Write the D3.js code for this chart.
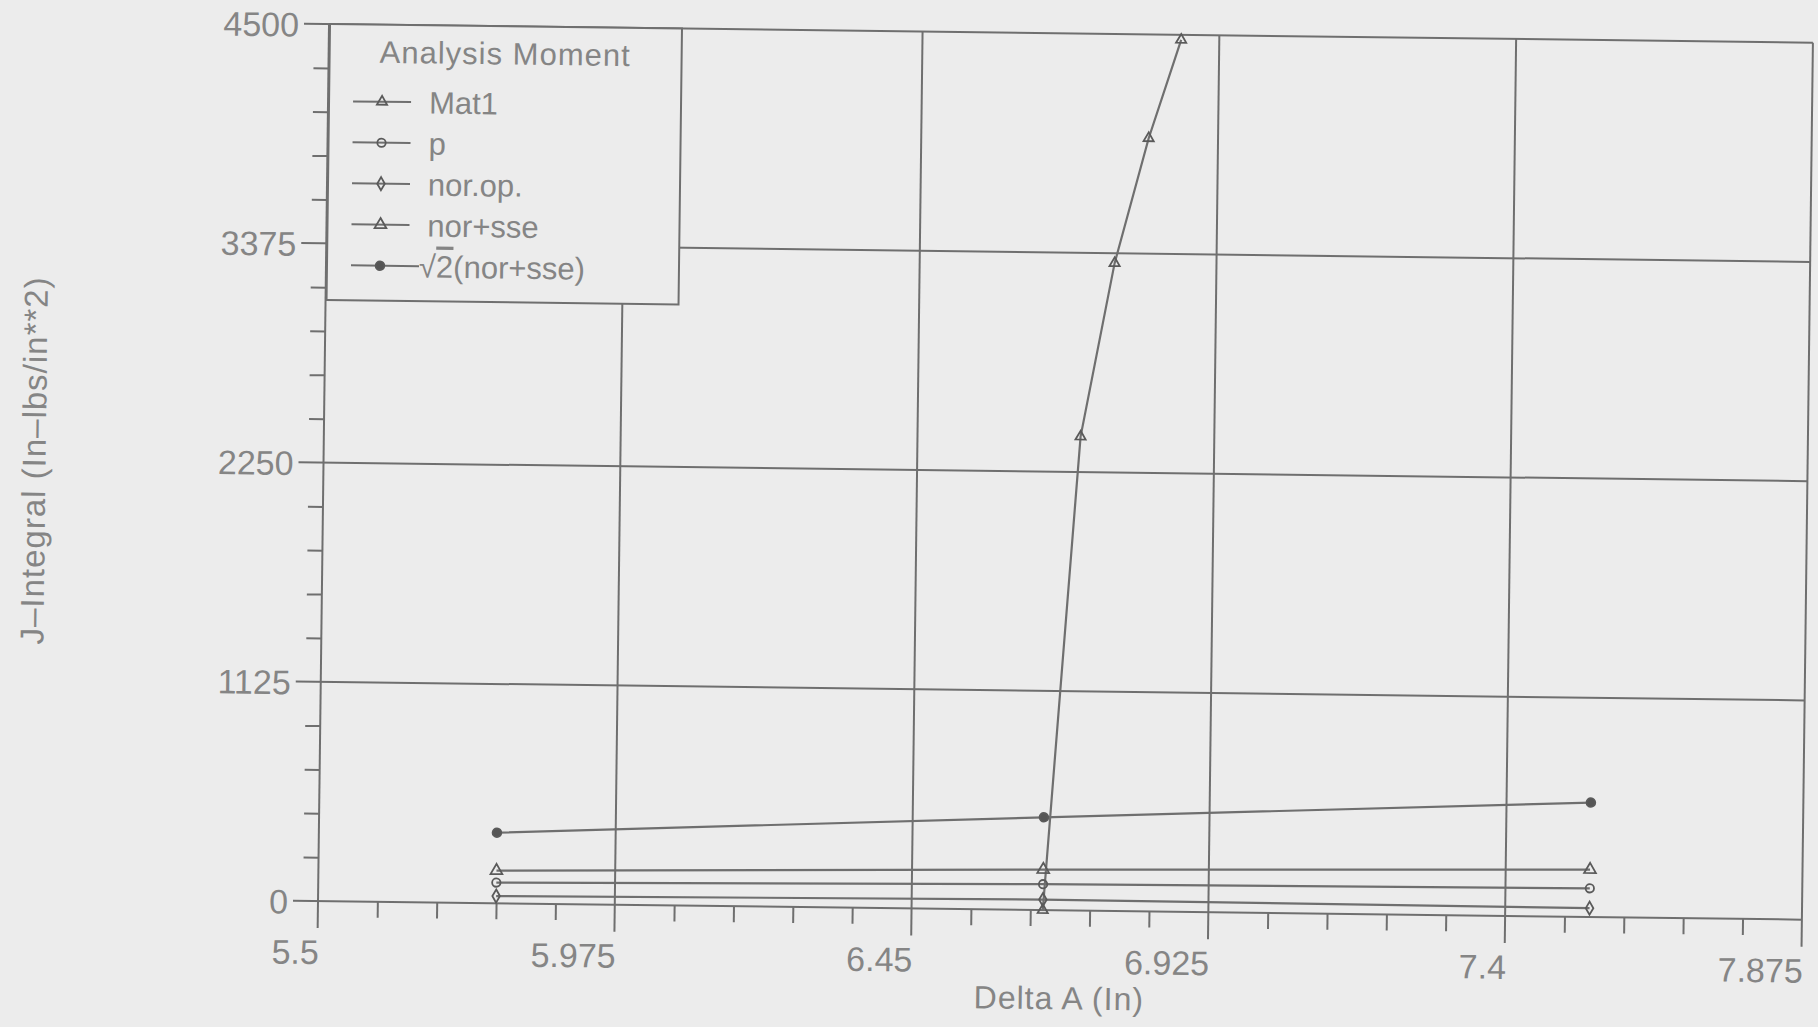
<!DOCTYPE html>
<html>
<head>
<meta charset="utf-8">
<script src="https://cdn.jsdelivr.net/npm/d3@7"></script>
<style>
  body { margin: 0; background: #ececec; }
  svg { display: block; }
  text { font-family: "Liberation Sans", Arial, sans-serif; fill: #858585; }
</style>
</head>
<body>
<script>
// data
const xTicks = [5.5, 5.975, 6.45, 6.925, 7.4, 7.875];
const yTicks = [0, 1125, 2250, 3375, 4500];
const loadX = [5.785, 6.66, 7.535];
const pVals = [106, 133, 147];
const norOpVals = [37, 54, 45];
const norSseVals = [167, 208, 243];
const sqrt2Vals = [362, 476, 587];
const mat1X = [6.66, 6.711, 6.762, 6.814, 6.864];
const mat1Y = [0, 2432, 3324, 3967, 4474];
const legendNames = ['Mat1', 'p', 'nor.op.', 'nor+sse', '(nor+sse)'];

const width = 1818, height = 1027;
const plotW = 1484, plotH = 877;
const lineColor = '#6f6f6f';

const svg = d3.select('body').append('svg')
	.attr('width', width)
	.attr('height', height);

svg.append('rect')
	.attr('width', width)
	.attr('height', height)
	.attr('fill', '#ececec');

// the scan is slightly tilted
const chart = svg.append('g')
	.attr('transform', 'rotate(0.72, 318, 901) translate(318, 24)');

const x = d3.scaleLinear().domain([5.5, 7.875]).range([0, plotW]);
const y = d3.scaleLinear().domain([0, 4500]).range([plotH, 0]);

// grid + border (major ticks run past the frame)
chart.selectAll('.vgrid')
	.data(xTicks)
	.join('line')
	.attr('x1', d => x(d)).attr('x2', d => x(d))
	.attr('y1', 0).attr('y2', plotH + 27)
	.attr('stroke', lineColor).attr('stroke-width', 2);

chart.selectAll('.hgrid')
	.data(yTicks)
	.join('line')
	.attr('x1', -25).attr('x2', plotW)
	.attr('y1', d => y(d)).attr('y2', d => y(d))
	.attr('stroke', lineColor).attr('stroke-width', 2);

// minor ticks
const xMinor = d3.range(5.5, 7.875, 0.095).filter((d, i) => i % 5 !== 0);
const yMinor = d3.range(0, 4500, 225).filter((d, i) => i % 5 !== 0);

const xMinorAxis = chart.append('g')
	.attr('transform', `translate(0, ${plotH})`)
	.call(d3.axisBottom(x).tickValues(xMinor).tickSize(16).tickFormat(''));
const yMinorAxis = chart.append('g')
	.call(d3.axisLeft(y).tickValues(yMinor).tickSize(15).tickFormat(''));
[xMinorAxis, yMinorAxis].forEach(g => {
	g.select('.domain').remove();
	g.selectAll('line').attr('stroke', lineColor).attr('stroke-width', 2);
});

// tick labels
const xAxisGroup = chart.append('g')
	.attr('transform', `translate(0, ${plotH})`)
	.call(d3.axisBottom(x).tickValues(xTicks).tickSize(0).tickFormat(d => String(d)));
xAxisGroup.selectAll('text')
	.attr('text-anchor', 'end')
	.attr('dy', null)
	.attr('y', 63)
	.attr('x', 1);

const yAxisGroup = chart.append('g')
	.call(d3.axisLeft(y).tickValues(yTicks).tickSize(0).tickPadding(30).tickFormat(d => String(d)));
yAxisGroup.selectAll('text')
	.attr('dy', '0.36em');

[xAxisGroup, yAxisGroup].forEach(g => {
	g.select('.domain').remove();
	g.selectAll('text')
		.attr('fill', '#858585')
		.style('font-size', '34px')
		.style('font-family', '"Liberation Sans", Arial, sans-serif');
});

// axis titles
chart.append('text')
	.attr('x', 742)
	.attr('y', plotH + 99)
	.attr('text-anchor', 'middle')
	.style('font-size', '32px')
	.style('letter-spacing', '1px')
	.text('Delta A (In)');

chart.append('text')
	.attr('transform', `translate(-278, 440) rotate(-90)`)
	.attr('text-anchor', 'middle')
	.style('font-size', '33px')
	.style('letter-spacing', '1px')
	.text('J–Integral (In–lbs/in**2)');

// series
const series = [
	{xs: mat1X, ys: mat1Y, shape: d3.symbolTriangle, size: 45, fill: 'none'},
	{xs: loadX, ys: pVals, shape: d3.symbolCircle, size: 55, fill: 'none'},
	{xs: loadX, ys: norOpVals, shape: d3.symbolDiamond, size: 50, fill: 'none'},
	{xs: loadX, ys: norSseVals, shape: d3.symbolTriangle, size: 60, fill: 'none'},
	{xs: loadX, ys: sqrt2Vals, shape: d3.symbolCircle, size: 60, fill: '#555'}
];

const line = d3.line()
	.x(d => x(d[0]))
	.y(d => y(d[1]));

series.forEach(s => {
	const pts = s.xs.map((d, i) => [d, s.ys[i]]);
	chart.append('path')
		.attr('d', line(pts))
		.attr('fill', 'none')
		.attr('stroke', lineColor)
		.attr('stroke-width', 2.2);
	chart.selectAll(null)
		.data(pts)
		.join('path')
		.attr('d', d3.symbol().type(s.shape).size(s.size))
		.attr('transform', d => `translate(${x(d[0])}, ${y(d[1])})`)
		.attr('fill', s.fill)
		.attr('stroke', '#5a5a5a')
		.attr('stroke-width', 1.8);
});

// legend
const legend = chart.append('g').attr('transform', 'translate(1, 0)');
legend.append('rect')
	.attr('width', 352)
	.attr('height', 276)
	.attr('fill', '#ececec')
	.attr('stroke', lineColor)
	.attr('stroke-width', 2);

legend.append('text')
	.attr('x', 50)
	.attr('y', 27)
	.attr('dy', '0.36em')
	.style('font-size', '31px')
	.style('letter-spacing', '1px')
	.text('Analysis Moment');

const items = legend.selectAll('.item')
	.data(series)
	.join('g')
	.attr('transform', (d, i) => `translate(0, ${77 + i * 41})`);

items.append('line')
	.attr('x1', 24)
	.attr('x2', (d, i) => i === 4 ? 92 : 82)
	.attr('stroke', lineColor)
	.attr('stroke-width', 2);

items.append('path')
	.attr('d', d => d3.symbol().type(d.shape).size(d.size)())
	.attr('transform', 'translate(53, 0)')
	.attr('fill', d => d.fill)
	.attr('stroke', '#5a5a5a')
	.attr('stroke-width', 1.8);

items.append('text')
	.attr('x', 100)
	.attr('dy', '0.36em')
	.style('font-size', '31px')
	.each(function(d, i) {
		const t = d3.select(this);
		if (i === 4) {
			t.attr('x', 92);
			t.append('tspan').text('√');
			t.append('tspan').style('text-decoration', 'overline').text('2');
			t.append('tspan').text(legendNames[i]);
		} else {
			t.text(legendNames[i]);
		}
	});
</script>
</body>
</html>
